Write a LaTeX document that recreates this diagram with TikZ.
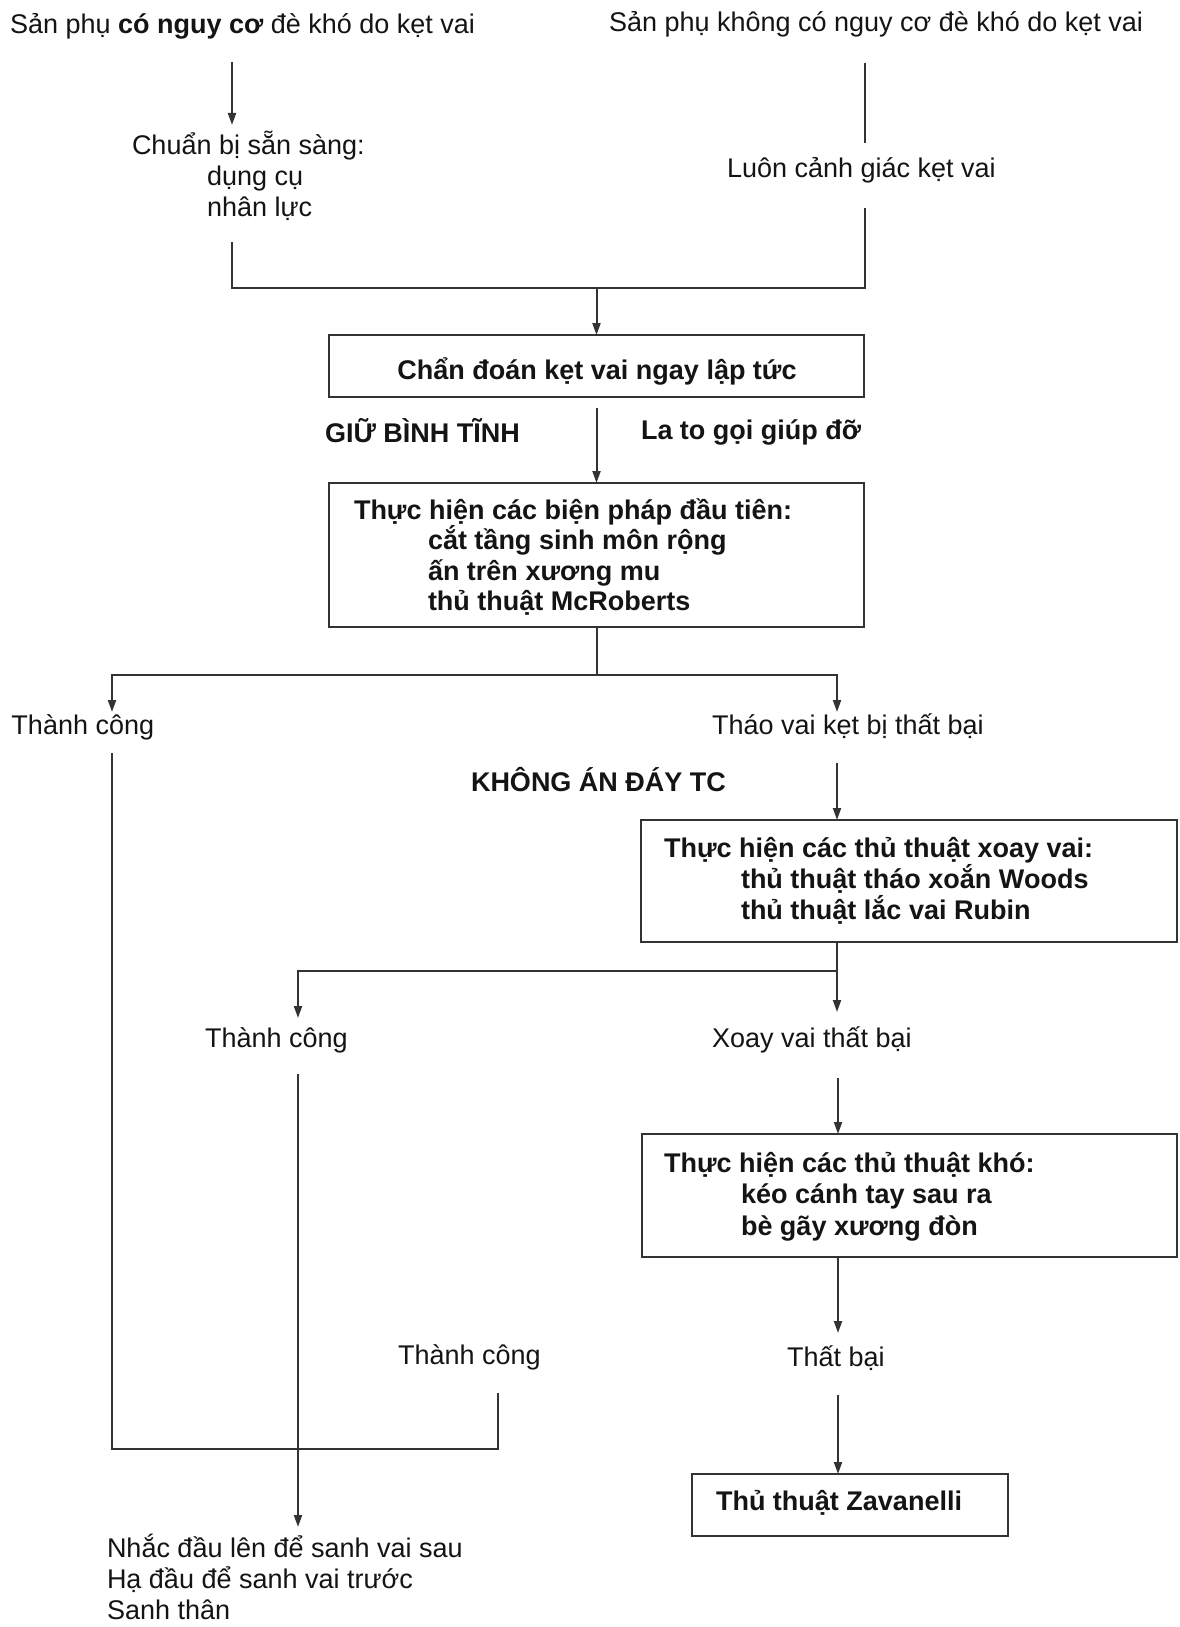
\documentclass[tikz,border=0pt]{standalone}
\usepackage{fontspec}
\setmainfont{Liberation Sans}
\usetikzlibrary{arrows.meta}
\begin{document}
\begin{tikzpicture}[x=1pt,y=-1pt,
  every node/.style={inner sep=0pt, outer sep=0pt, text=black!92},
  txt/.style={anchor=base west, align=left, font=\fontsize{27}{31}\selectfont},
  btxt/.style={anchor=base west, align=left, font=\fontsize{27}{31}\selectfont\bfseries},
  box/.style={draw=black!80, line width=2pt, anchor=north west},
  ln/.style={draw=black!80, line width=2pt},
  arr/.style={ln, -{Triangle[length=12pt,width=8pt]}},
]
\fill[white] (0,0) rectangle (1180,1627);
\useasboundingbox (0,0) rectangle (1180,1627);

% ---- boxes ----
\node[box, minimum width=535pt, minimum height=62pt]  (b1) at (329,335) {};
\node[box, minimum width=535pt, minimum height=144pt] (b2) at (329,483) {};
\node[box, minimum width=536pt, minimum height=122pt] (b3) at (641,820) {};
\node[box, minimum width=535pt, minimum height=123pt] (b4) at (642,1134) {};
\node[box, minimum width=316pt, minimum height=62pt]  (b5) at (692,1474) {};

% ---- texts (multi-line nodes: base = last line) ----
\node[txt] (tL) at (10,34) {Sản phụ \textbf{có nguy cơ} đè khó do kẹt vai};
\node[txt] (tR) at (609,32) {Sản phụ không có nguy cơ đè khó do kẹt vai};
\node[txt] (prep) at (132,216) {Chuẩn bị sẵn sàng:\\\hspace*{75pt}dụng cụ\\\hspace*{75pt}nhân lực};
\node[txt] (alert) at (727,177) {Luôn cảnh giác kẹt vai};
\node[btxt, anchor=base] (b1t) at (597,379) {Chẩn đoán kẹt vai ngay lập tức};
\node[btxt] (calm) at (325,442) {GIỮ BÌNH TĨNH};
\node[btxt] (help) at (641,439) {La to gọi giúp đỡ};
\node[btxt, font=\fontsize{27}{30.5}\selectfont\bfseries] (b2t) at (354,610.5) {Thực hiện các biện pháp đầu tiên:\\\hspace*{74pt}cắt tầng sinh môn rộng\\\hspace*{74pt}ấn trên xương mu\\\hspace*{74pt}thủ thuật McRoberts};
\node[txt] (ok1) at (11.5,734) {Thành công};
\node[txt] (fail1) at (712,734) {Tháo vai kẹt bị thất bại};
\node[btxt] (nof) at (471,791) {KHÔNG ÁN ĐÁY TC};
\node[btxt] (b3t) at (664,919) {Thực hiện các thủ thuật xoay vai:\\\hspace*{77pt}thủ thuật tháo xoắn Woods\\\hspace*{77pt}thủ thuật lắc vai Rubin};
\node[txt] (ok2) at (205,1047) {Thành công};
\node[txt] (fail2) at (712,1047) {Xoay vai thất bại};
\node[btxt, font=\fontsize{27}{31.5}\selectfont\bfseries] (b4t) at (664,1235) {Thực hiện các thủ thuật khó:\\\hspace*{77pt}kéo cánh tay sau ra\\\hspace*{77pt}bè gãy xương đòn};
\node[txt] (fail3) at (787,1366) {Thất bại};
\node[btxt] (b5t) at (716,1510) {Thủ thuật Zavanelli};
\node[txt] (ok3) at (398,1364) {Thành công};
\node[txt] (fin) at (107,1619) {Nhắc đầu lên để sanh vai sau\\Hạ đầu để sanh vai trước\\Sanh thân};

% ---- connector points ----
\coordinate (aL1) at (232,62);   \coordinate (aL2) at (232,125);
\coordinate (aR1) at (865,63);   \coordinate (aR2) at (865,143);
\coordinate (aL3) at (232,242);  \coordinate (aR3) at (865,208);
\coordinate (j1) at (596.5,288);
\coordinate (a5) at (596.5,408);
\coordinate (j2) at (596.5,675);
\coordinate (ok1in) at (112,712);   \coordinate (fail1in) at (837,712);
\coordinate (ok1out) at (112,753);  \coordinate (fail1out) at (837,763);
\coordinate (j4) at (497.5,1449);   \coordinate (ok3out) at (497.5,1393);
\coordinate (j3) at (837,971);
\coordinate (fail2in) at (837,1012); \coordinate (ok2in) at (298,1018);
\coordinate (ok2out) at (298,1074);  \coordinate (finin) at (298,1527);
\coordinate (fail2out) at (838,1078);
\coordinate (fail3in) at (838,1333); \coordinate (fail3out) at (838,1395);

% ---- connectors ----
\draw[arr] (aL1) -- (aL2);
\draw[ln] (aR1) -- (aR2);
\draw[ln] (aL3) |- (aR3 |- j1) -- (aR3);
\draw[arr] (j1) -- (b1.north);
\draw[arr] (a5) -- (b2.north);
\draw[ln] (b2.south) -- (j2);
\draw[arr] (j2) -| (ok1in);
\draw[arr] (j2) -| (fail1in);
\draw[arr] (fail1out) -- (fail1out |- b3.north);
\draw[ln] (ok1out) |- (j4) -- (ok3out);
\draw[ln] (fail1out |- b3.south) -- (j3);
\draw[arr] (j3) -- (fail2in);
\draw[arr] (j3) -| (ok2in);
\draw[arr] (ok2out) -- (finin);
\draw[arr] (fail2out) -- (fail2out |- b4.north);
\draw[arr] (fail2out |- b4.south) -- (fail3in);
\draw[arr] (fail3out) -- (fail3out |- b5.north);
\end{tikzpicture}
\end{document}
